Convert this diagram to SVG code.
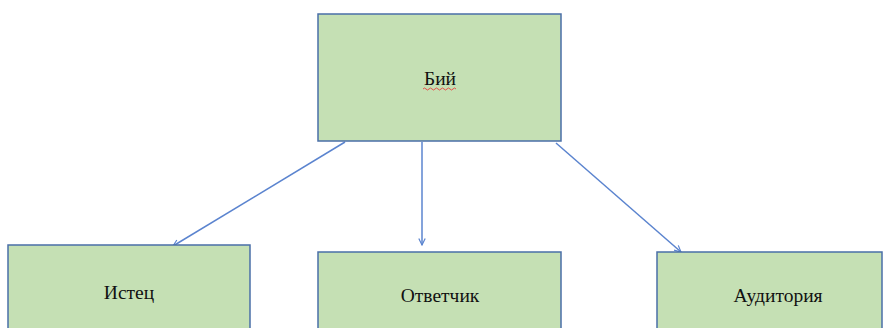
<svg xmlns="http://www.w3.org/2000/svg" width="884" height="328" viewBox="0 0 884 328">
<defs>
<style>
.box{fill:#c5e0b4;stroke:#4a6fa8;stroke-width:1.5}
.lbl{font-family:"Liberation Serif","DejaVu Serif",serif;font-size:19.5px;fill:#111;text-anchor:middle}
.conn{stroke:#5b84cf;stroke-width:1.5;fill:none}
</style>
<marker id="arr" viewBox="0 0 10 10" refX="9" refY="5" markerWidth="8" markerHeight="8" orient="auto" markerUnits="userSpaceOnUse">
<path d="M1,1 L9,5 L1,9" fill="none" stroke="#5b84cf" stroke-width="1.5"/>
</marker>
</defs>
<rect width="884" height="328" fill="#fff"/>
<g id="connectors">
<line class="conn" x1="345" y1="142" x2="173" y2="246" marker-end="url(#arr)"/>
<line class="conn" x1="422" y1="142" x2="422" y2="245" marker-end="url(#arr)"/>
<line class="conn" x1="556" y1="143" x2="681" y2="252" marker-end="url(#arr)"/>
</g>
<g id="biy">
<rect class="box" x="318" y="14" width="243" height="127"/>
<text class="lbl" x="440" y="85">Бий</text>
<path d="M423,89 q1.5,-2 3,0 t3,0 t3,0 t3,0 t3,0 t3,0 t3,0 t3,0 t3,0 t3,0 t3,0" fill="none" stroke="#e84040" stroke-width="0.9"/>
</g>
<g id="istec">
<rect class="box" x="8" y="245" width="242" height="100"/>
<text class="lbl" x="129" y="299">Истец</text>
</g>
<g id="otvetchik">
<rect class="box" x="318" y="252" width="243" height="100"/>
<text class="lbl" x="440" y="302">Ответчик</text>
</g>
<g id="auditoriya">
<rect class="box" x="657" y="252" width="225" height="100"/>
<text class="lbl" x="778" y="302">Аудитория</text>
</g>
</svg>
